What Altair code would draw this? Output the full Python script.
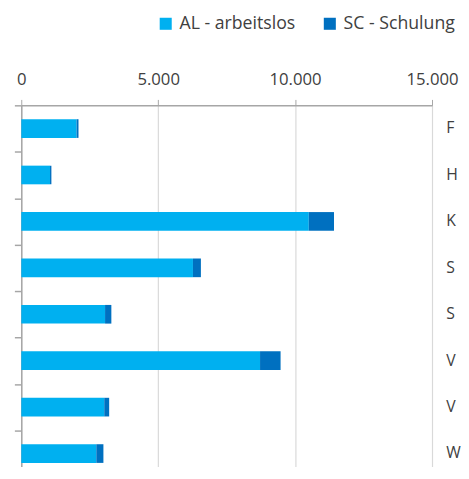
import altair as alt
import pandas as pd

categories = ["Feldkirchen", "Hermagor", "Klagenfurt", "Spittal/Drau",
              "St. Veit/Glan", "Villach", "Völkermarkt", "Wolfsberg"]
al_values = [2020, 1050, 10500, 6270, 3060, 8720, 3030, 2740]
sc_values = [70, 50, 920, 290, 230, 750, 180, 260]
series = ["AL - arbeitslos", "SC - Schulung"]
colors = ["#00B0F0", "#0070C0"]
x_ticks = [0, 5000, 10000, 15000]

rows = []
for c, a, s in zip(categories, al_values, sc_values):
    rows.append({"cat": c, "series": series[0], "value": a, "ord": 0})
    rows.append({"cat": c, "series": series[1], "value": s, "ord": 1})
df = pd.DataFrame(rows)

FONT = "Open Sans"
TXT = "#404040"

y_enc_left = alt.Y("cat:N", sort=categories, title=None,
                   scale=alt.Scale(paddingInner=0, paddingOuter=0),
                   axis=alt.Axis(orient="left", labels=False, ticks=True,
                                 tickBand="extent", tickSize=7,
                                 tickColor="#A6A6A6", domainColor="#A6A6A6",
                                 domainWidth=1.5, tickWidth=1.5, grid=False))

bars = alt.Chart(df).mark_bar(size=19).encode(
    x=alt.X("value:Q", stack="zero", title=None,
            scale=alt.Scale(domain=[0, 15000], nice=False),
            axis=alt.Axis(orient="top", values=x_ticks,
                          labelExpr="replace(format(datum.value, ','), ',', '.')",
                          labelFont=FONT, labelFontSize=17, labelColor=TXT,
                          labelPadding=11, tickSize=6, tickColor="#A6A6A6",
                          domainColor="#A6A6A6", domainWidth=1.5,
                          grid=True, gridColor="#D9D9D9", gridWidth=1.2,
                          labelFlush=False)),
    y=y_enc_left,
    color=alt.Color("series:N", scale=alt.Scale(domain=series, range=colors),
                    legend=alt.Legend(orient="none", legendX=138, legendY=-92,
                                      direction="horizontal", title=None,
                                      symbolType="square", symbolSize=150,
                                      symbolStrokeWidth=0,
                                      labelFont=FONT, labelFontSize=18,
                                      labelColor=TXT, labelOffset=5,
                                      columnPadding=26)),
    order=alt.Order("ord:Q"),
)

labels_layer = alt.Chart(df).mark_point(opacity=0).encode(
    y=alt.Y("cat:N", sort=categories, title=None,
            axis=alt.Axis(orient="right", ticks=False, domain=False,
                          grid=False, labelPadding=14, labelFont=FONT,
                          labelFontSize=16, labelColor=TXT,
                          labelExpr="substring(datum.label, 0, 1)")),
)

chart = alt.layer(bars, labels_layer).resolve_axis(y="independent").properties(
    width=418, height=378,
    autosize=alt.AutoSizeParams(type="none"),
    padding={"left": 13.5, "top": 95, "right": 29.5, "bottom": -14},
    background="white",
).configure_view(stroke=None)

chart.save("out.html", embed_options={"renderer": "svg", "actions": False})
